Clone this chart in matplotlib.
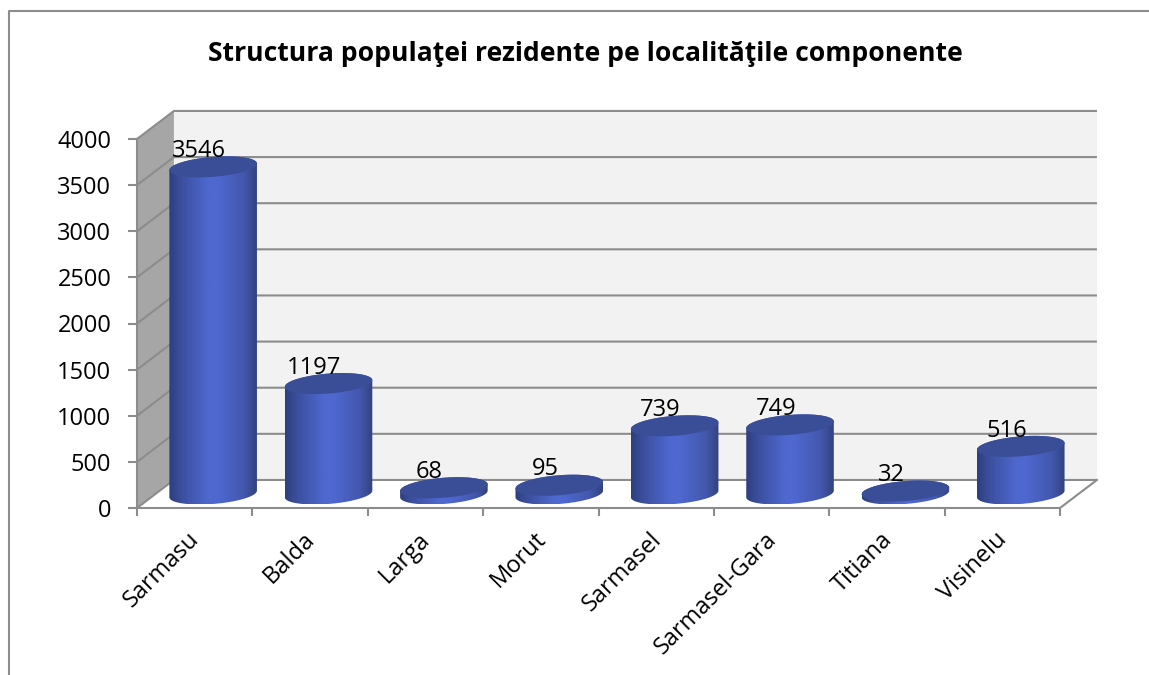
import numpy as np
import matplotlib
matplotlib.use('Agg')
import matplotlib.pyplot as plt
from matplotlib.colors import LinearSegmentedColormap
from matplotlib.lines import Line2D
from matplotlib.patches import Polygon
from matplotlib.transforms import ScaledTranslation

plt.rcParams['font.family'] = ['Open Sans', 'DejaVu Sans']

title = 'Structura populaţei rezidente pe localităţile componente'
categories = ['Sarmasu', 'Balda', 'Larga', 'Morut', 'Sarmasel', 'Sarmasel-Gara', 'Titiana', 'Visinelu']
values = [3546, 1197, 68, 95, 739, 749, 32, 516]
y_ticks = [0, 500, 1000, 1500, 2000, 2500, 3000, 3500, 4000]

W, H = 1149, 675
GREY = '#8c8c8c'

# depth of the fake 3d box, in data units
dx = 0.32
dy = 304
# cylinder radius (along x) and fraction of depth used
rad = 0.36
frac = 0.375

fig = plt.figure(figsize=(W / 100, H / 100), dpi=100)
ax = fig.add_axes([137 / W, 1 - 508 / H, (1060 - 137) / W, (508 - 139) / H])
ax.set_zorder(2)
ax.patch.set_visible(False)

# chart frame, only top and left show
fig.add_artist(Line2D([9 / W, 9 / W, 1], [0, 1 - 11 / H, 1 - 11 / H], color=GREY, lw=1.5))

n = len(categories)
ymax = y_ticks[-1]

# walls
ax.add_patch(Polygon([(0, 0), (dx, dy), (dx, ymax + dy), (0, ymax)], fc='#a6a6a6', ec='none', clip_on=False, zorder=1))
ax.add_patch(Polygon([(dx, dy), (n + dx, dy), (n + dx, ymax + dy), (dx, ymax + dy)], fc='#f2f2f2', ec='none', clip_on=False, zorder=1))
ax.add_patch(Polygon([(0, 0), (n, 0), (n + dx, dy), (dx, dy)], fc='white', ec='none', clip_on=False, zorder=1))

# gridlines
for t in y_ticks:
    ax.plot([0, dx, n + dx], [t, t + dy, t + dy], color=GREY, lw=1.5, clip_on=False, zorder=2, solid_capstyle='butt')
ax.plot([n, n + dx], [0, dy], color=GREY, lw=1.5, clip_on=False, zorder=2)

cmap = LinearSegmentedColormap.from_list('cyl', [
    (0.0, '#2e3f7e'), (0.15, '#3c50a0'), (0.45, '#4f68d0'), (0.55, '#4f68d0'),
    (0.85, '#4358ad'), (1.0, '#32427e')])
grad = np.linspace(0, 1, 256).reshape(1, -1)


def ring(cx, cy, t):
    return cx + rad * np.cos(t) + frac * dx * np.sin(t), cy + frac * dy * np.sin(t)


# cylinders
t_r = np.arctan2(frac * dx, rad)
for i, v in enumerate(values):
    cx = i + 0.5 + dx / 2
    base_y = dy / 2
    top_y = v + dy / 2
    t1 = np.linspace(t_r - np.pi, t_r, 80)
    t2 = np.linspace(t_r, t_r + np.pi, 80)
    xb, yb = ring(cx, base_y, t1)
    xt, yt = ring(cx, top_y, t2)
    body = Polygon(np.column_stack([np.r_[xb, xt], np.r_[yb, yt]]), transform=ax.transData, fc='none', ec='none')
    ax.add_patch(body)
    half = np.hypot(rad, frac * dx)
    im = ax.imshow(grad, cmap=cmap, aspect='auto', zorder=3,
                   extent=[cx - half, cx + half, base_y - frac * dy, top_y + frac * dy])
    im.set_clip_box(fig.bbox)
    im.set_clip_path(body)
    tt = np.linspace(0, 2 * np.pi, 160)
    xe, ye = ring(cx, top_y, tt)
    ax.add_patch(Polygon(np.column_stack([xe, ye]), fc='#3a4e98', ec='none', zorder=4, clip_on=False))
    ax.annotate(str(v), xy=(i + 0.5, v), xytext=(3, 21.5), textcoords='offset points',
                ha='center', va='center', fontsize=17, color='black', zorder=6, annotation_clip=False)

ax.set_xlim(0, n)
ax.set_ylim(0, ymax)

for s in ['top', 'right']:
    ax.spines[s].set_visible(False)
for s in ['left', 'bottom']:
    ax.spines[s].set_color(GREY)
    ax.spines[s].set_linewidth(1.5)

ax.set_yticks(y_ticks)
ax.tick_params(axis='y', length=6.5, width=1.5, color=GREY, labelsize=17, pad=12)
ax.set_xticks(np.arange(n + 1))
ax.set_xticklabels([])
ax.set_xticks(np.arange(n) + 0.5, minor=True)
ax.set_xticklabels(categories, minor=True, rotation=45, ha='right', rotation_mode='anchor', fontsize=17)
ax.tick_params(axis='x', which='major', length=6, width=1.5, color=GREY)
ax.tick_params(axis='x', which='minor', length=0, pad=14)
shift = ScaledTranslation(-7 / 100, 0, fig.dpi_scale_trans)
for lab in ax.get_xticklabels(minor=True):
    lab.set_transform(lab.get_transform() + shift)

fig.text(585 / W, 1 - 54 / H, title, ha='center', va='center', fontsize=19.1, fontweight='bold')

fig.savefig('out.png', dpi=100)
